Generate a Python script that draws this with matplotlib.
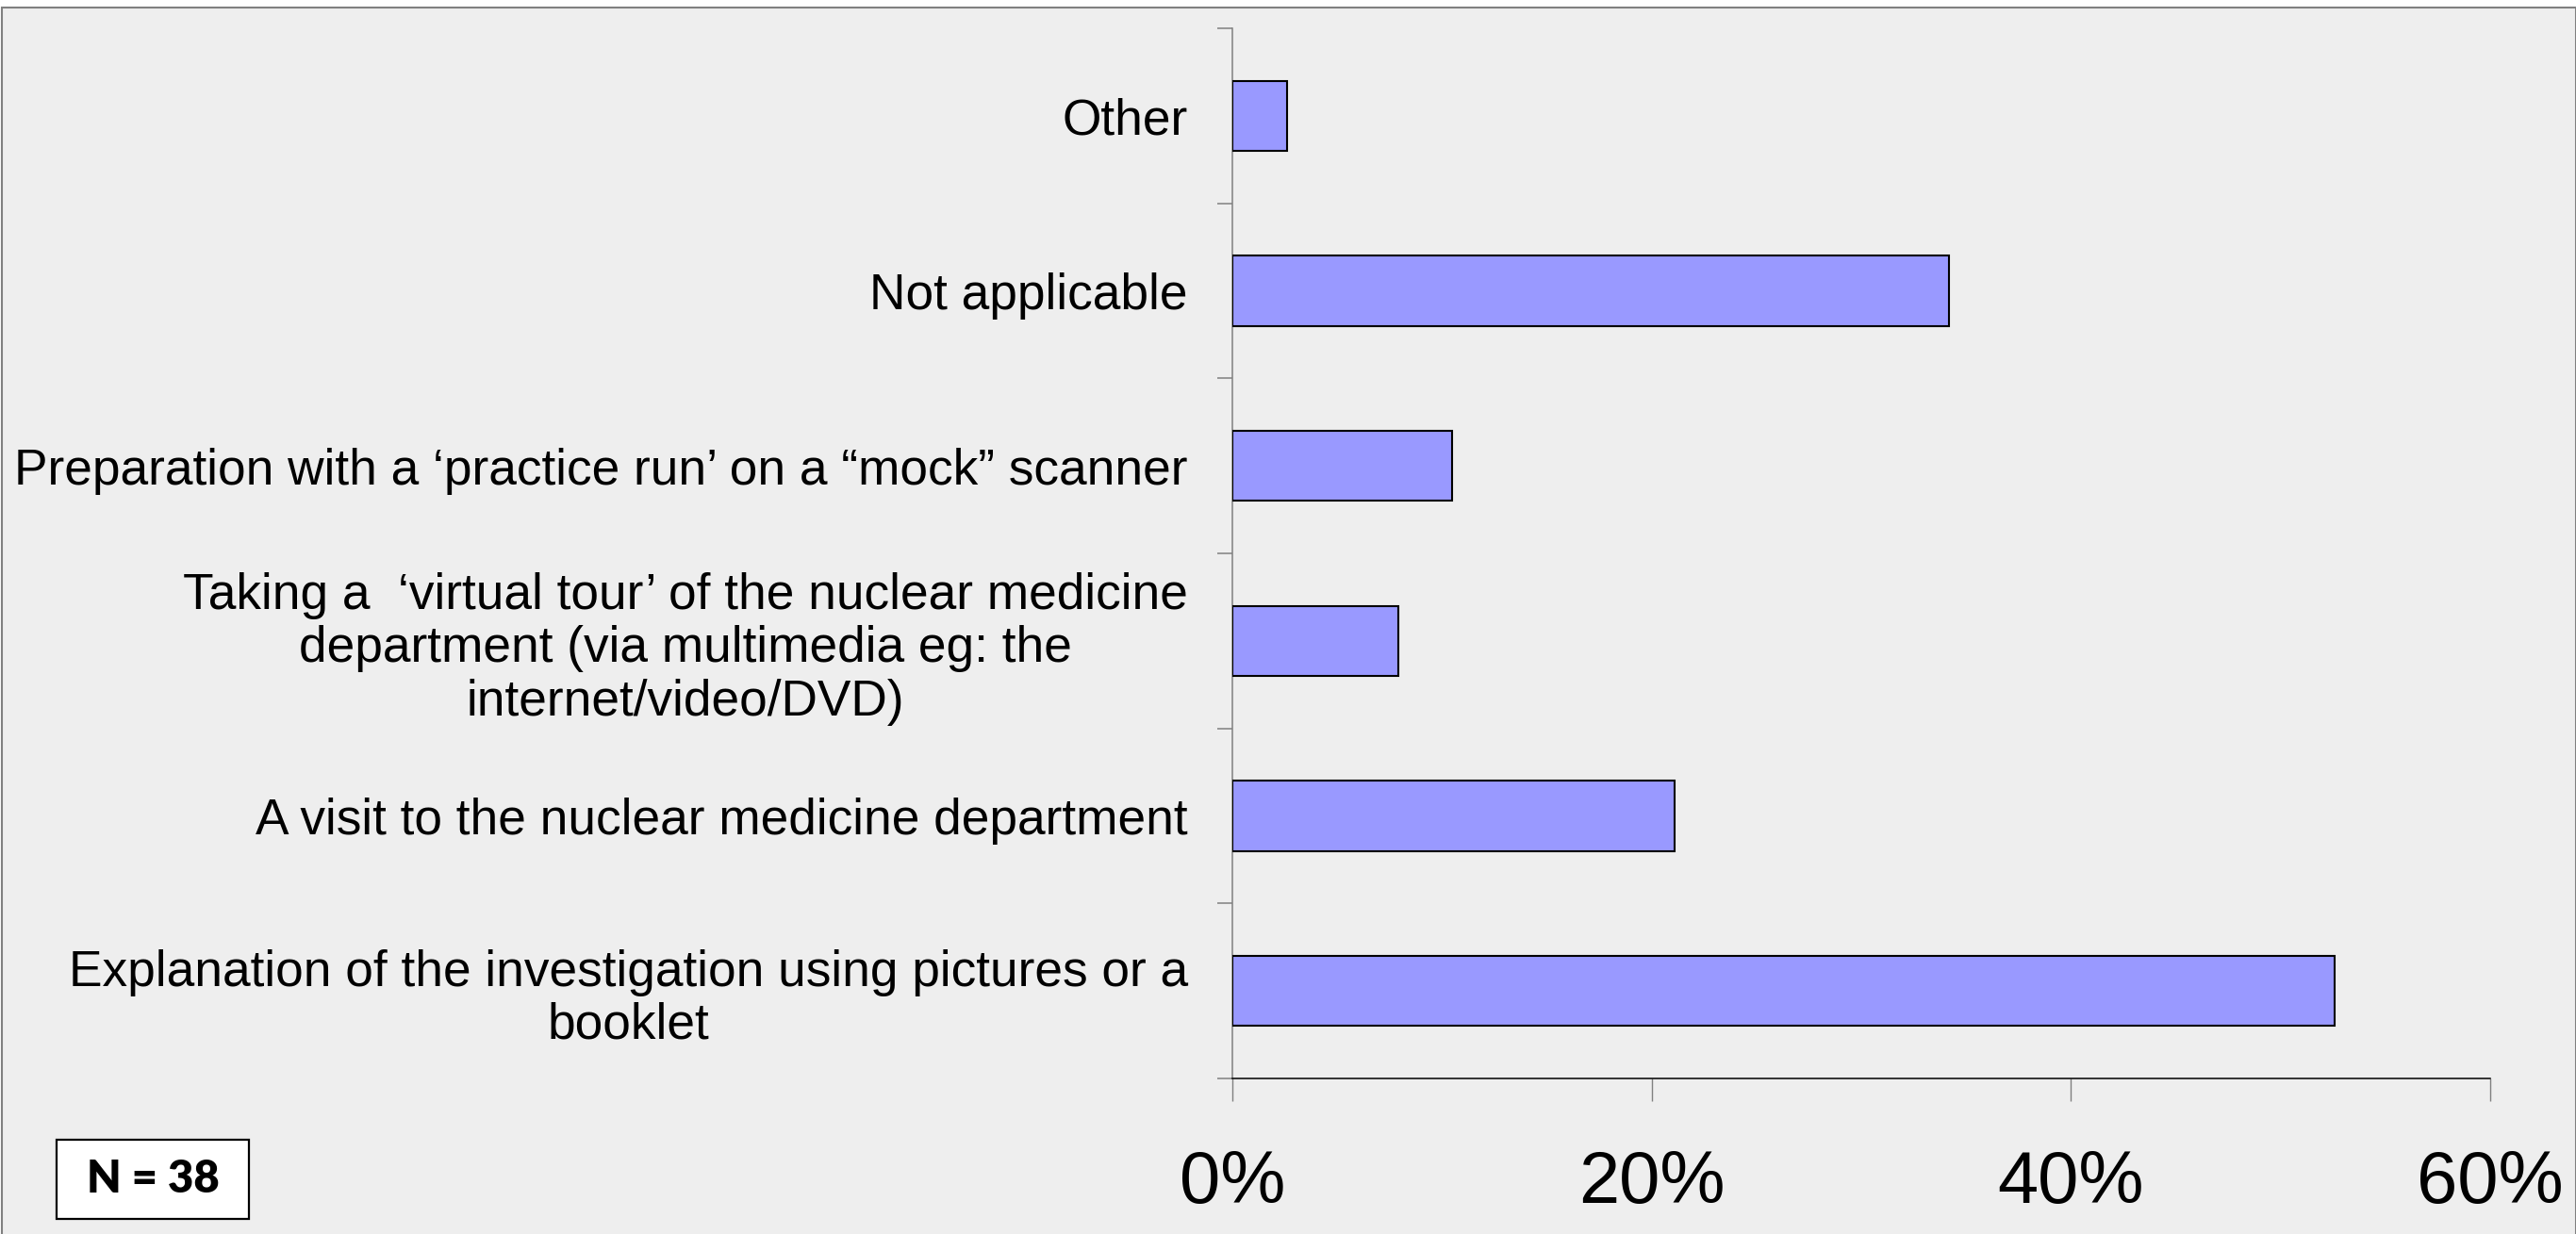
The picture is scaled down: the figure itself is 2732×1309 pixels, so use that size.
import matplotlib
matplotlib.use("Agg")
import matplotlib.pyplot as plt
from matplotlib.patches import Rectangle
from matplotlib.ticker import FuncFormatter, FixedLocator

# ---- data (bottom to top) ----
categories = [
    "Explanation of the investigation using pictures or a\nbooklet",
    "A visit to the nuclear medicine department",
    "Taking a  \u2018virtual tour\u2019 of the nuclear medicine\ndepartment (via multimedia eg: the\ninternet/video/DVD)",
    "Preparation with a \u2018practice run\u2019 on a \u201cmock\u201d scanner",
    "Not applicable",
    "Other",
]
values = [0.526, 0.211, 0.079, 0.105, 0.342, 0.026]
x_ticks = [0.0, 0.2, 0.4, 0.6]
note_text = "N = 38"

W, H = 2732, 1309
fig = plt.figure(figsize=(W / 100, H / 100), dpi=100, facecolor="white")

# background panel with grey border
fig.patches.append(Rectangle((0.0006, -0.02), 2730.5 / W, (H - 8) / H + 0.02,
                             transform=fig.transFigure, facecolor="#EEEEEE",
                             edgecolor="#808080", linewidth=1.5, zorder=-10))

ax_l, ax_r, ax_t, ax_b = 1307, 2641, 30, 1144
ax = fig.add_axes([ax_l / W, 1 - ax_b / H, (ax_r - ax_l) / W, (ax_b - ax_t) / H])
ax.set_facecolor("none")

ypos = list(range(len(categories)))
ax.barh(ypos, values, height=0.4, color="#9999FF", edgecolor="black",
        linewidth=1.5, zorder=3)

ax.set_xlim(0, 0.6)
ax.set_ylim(-0.5, len(categories) - 0.5)

# y axis: labels at centres, tick marks at boundaries
ax.set_yticks(ypos)
ax.set_yticklabels(categories, fontsize=38.3, family="Liberation Sans",
                   ha="right", multialignment="center", linespacing=1.16)
ax.yaxis.set_minor_locator(FixedLocator([i - 0.5 for i in range(len(categories) + 1)]))
ax.tick_params(axis="y", which="major", length=0, pad=34)
ax.tick_params(axis="y", which="minor", length=11.5, width=1.1, color="#808080",
               direction="out")

# x axis
ax.set_xticks(x_ticks)
ax.xaxis.set_major_formatter(FuncFormatter(lambda v, p: f"{v*100:.0f}%"))
ax.tick_params(axis="x", which="major", length=17, width=1.0, color="#808080",
               labelsize=56, pad=37)
for lbl in ax.get_xticklabels():
    lbl.set_family("Liberation Sans")

for s in ["top", "right"]:
    ax.spines[s].set_visible(False)
ax.spines["left"].set_color("#808080")
ax.spines["left"].set_linewidth(1.1)
ax.spines["bottom"].set_color("black")
ax.spines["bottom"].set_linewidth(1.1)

# N = 38 box
bx0, bx1, by0, by1 = 60, 264, 1209, 1293
fig.patches.append(Rectangle((bx0 / W, 1 - by1 / H), (bx1 - bx0) / W, (by1 - by0) / H,
                             transform=fig.transFigure, facecolor="white",
                             edgecolor="black", linewidth=1.6, zorder=5))
fig.text((bx0 + bx1) / 2 / W, 1 - (by0 + by1) / 2 / H, note_text, ha="center",
         va="center", fontsize=34, fontweight="heavy", family="Lato", zorder=6)

fig.savefig("out.png", dpi=100, facecolor="white")
